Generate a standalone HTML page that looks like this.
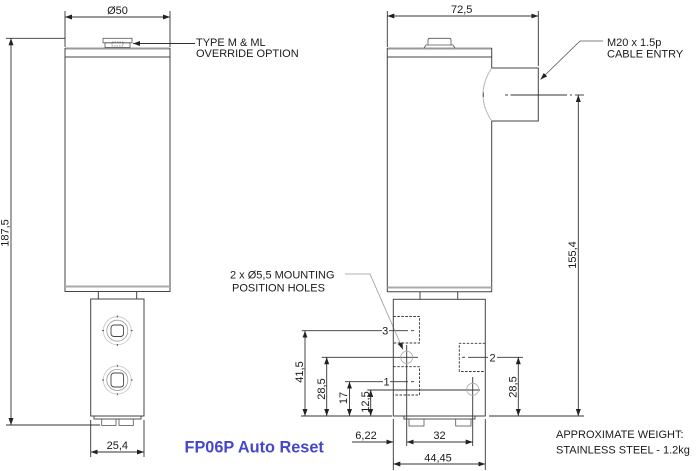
<!DOCTYPE html>
<html><head><meta charset="utf-8"><style>
html,body{margin:0;padding:0;background:#fff;}
svg{display:block;}
text{font-family:"Liberation Sans",sans-serif;font-size:11px;fill:#1a1a1a;}
</style></head><body>
<svg width="700" height="471" viewBox="0 0 700 471" xmlns="http://www.w3.org/2000/svg">
<defs>
<marker id="a" markerWidth="8" markerHeight="6" refX="7" refY="2.5" orient="auto-start-reverse" markerUnits="userSpaceOnUse"><path d="M0,0 L7,2.5 L0,5 z" fill="#222"/></marker>
</defs>

<!-- ============ LEFT VIEW ============ -->
<g stroke="#333" stroke-width="0.9" fill="none">
  <!-- Ø50 -->
  <line x1="65" y1="11" x2="65" y2="47"/>
  <line x1="170" y1="11" x2="170" y2="47"/>
  <line x1="65" y1="17" x2="170" y2="17" marker-start="url(#a)" marker-end="url(#a)"/>
  <!-- 187,5 -->
  <line x1="6" y1="38.3" x2="65" y2="38.3"/>
  <line x1="11" y1="38.3" x2="11" y2="425" marker-start="url(#a)" marker-end="url(#a)"/>
  <line x1="6" y1="425" x2="100" y2="425"/>
  <!-- 25,4 -->
  <line x1="90.7" y1="420" x2="90.7" y2="457"/>
  <line x1="144" y1="420" x2="144" y2="457"/>
  <line x1="90.7" y1="452" x2="144" y2="452" marker-start="url(#a)" marker-end="url(#a)"/>
  <!-- leader override -->
  <line x1="133" y1="43.5" x2="195" y2="43.5" marker-start="url(#a)"/>
</g>
<text x="117.5" y="14" text-anchor="middle">Ø50</text>
<text transform="translate(8.5,233) rotate(-90)" text-anchor="middle">187,5</text>
<text x="117.3" y="449" text-anchor="middle">25,4</text>
<text x="196" y="46">TYPE M &amp; ML</text>
<text x="196" y="57">OVERRIDE OPTION</text>

<!-- left body -->
<g fill="none">
  <line x1="65" y1="48.5" x2="170" y2="48.5" stroke="#999" stroke-width="2"/>
  <line x1="65" y1="57" x2="170" y2="57" stroke="#444" stroke-width="1"/>
  <line x1="65" y1="48" x2="65" y2="292" stroke="#444" stroke-width="1"/>
  <line x1="170" y1="48" x2="170" y2="292" stroke="#444" stroke-width="1"/>
  <line x1="65" y1="286.5" x2="170" y2="286.5" stroke="#aaa" stroke-width="2"/>
  <line x1="65" y1="291.5" x2="170" y2="291.5" stroke="#444" stroke-width="1"/>
  <!-- button -->
  <rect x="103" y="38.3" width="29" height="4.5" stroke="#555" stroke-width="0.8"/>
  <rect x="105" y="42.8" width="25" height="4.7" stroke="#555" stroke-width="0.8"/>
  <rect x="112" y="42" width="11" height="4" stroke="#777" stroke-width="0.7" stroke-dasharray="1.5,1"/>
  <!-- neck -->
  <line x1="98.3" y1="292" x2="98.3" y2="299" stroke="#444"/>
  <line x1="136.7" y1="292" x2="136.7" y2="299" stroke="#444"/>
  <!-- block -->
  <rect x="90.7" y="299" width="53.3" height="117" stroke="#444" stroke-width="1"/>
  <rect x="94" y="416" width="47" height="3" stroke="#444" stroke-width="0.9"/>
  <rect x="101.7" y="419" width="14.3" height="6.5" stroke="#555" stroke-width="0.8"/>
  <rect x="119" y="419" width="14.3" height="6.5" stroke="#555" stroke-width="0.8"/>
  <!-- circles -->
  <circle cx="117.3" cy="330.7" r="14" stroke="#c4c4c4" stroke-width="0.8"/>
  <circle cx="117.3" cy="330.7" r="10.5" stroke="#999" stroke-width="0.8"/>
  <rect x="111" y="325" width="12.6" height="11.5" rx="3" stroke="#444" stroke-width="0.9"/>
  <circle cx="117.3" cy="380" r="14" stroke="#c4c4c4" stroke-width="0.8"/>
  <circle cx="117.3" cy="380" r="10.5" stroke="#999" stroke-width="0.8"/>
  <rect x="111" y="373" width="12.6" height="14" rx="3" stroke="#444" stroke-width="0.9"/>
  <g stroke="#333" stroke-width="0.8">
    <line x1="117.3" y1="315.5" x2="117.3" y2="317.5"/><line x1="117.3" y1="344" x2="117.3" y2="346"/>
    <line x1="102" y1="330.7" x2="104" y2="330.7"/><line x1="130.6" y1="330.7" x2="132.6" y2="330.7"/>
    <line x1="117.3" y1="364.8" x2="117.3" y2="366.8"/><line x1="117.3" y1="393.3" x2="117.3" y2="395.3"/>
    <line x1="102" y1="380" x2="104" y2="380"/><line x1="130.6" y1="380" x2="132.6" y2="380"/>
  </g>
</g>

<text x="184.5" y="452.7" style="font-size:16.3px;font-weight:bold;fill:#4646cc;">FP06P Auto Reset</text>

<!-- ============ RIGHT VIEW ============ -->
<g stroke="#333" stroke-width="0.9" fill="none">
  <!-- 72,5 -->
  <line x1="387.3" y1="11" x2="387.3" y2="47"/>
  <line x1="538.3" y1="11" x2="538.3" y2="66"/>
  <line x1="387.3" y1="16" x2="538.3" y2="16" marker-start="url(#a)" marker-end="url(#a)"/>
  <!-- 155,4 -->
  <line x1="578.3" y1="95" x2="578.3" y2="416" marker-start="url(#a)" marker-end="url(#a)"/>
  <!-- M20 leader -->
  <polyline points="603,41 580,41 540.5,79.5" stroke="#555" stroke-width="0.8" marker-end="url(#a)"/>
  <!-- baselines -->
  <line x1="301" y1="416" x2="392" y2="416"/>
  <line x1="489" y1="416" x2="584" y2="416"/>
  <!-- 3 line -->
  <line x1="301.7" y1="330.7" x2="382" y2="330.7"/>
  <line x1="389" y1="330.7" x2="408" y2="330.7"/>
  <line x1="411" y1="330.7" x2="414" y2="330.7"/>
  <line x1="305" y1="330.7" x2="305" y2="416" marker-start="url(#a)" marker-end="url(#a)"/>
  <!-- 28,5 left -->
  <line x1="321.7" y1="357.3" x2="418" y2="357.3"/>
  <line x1="326.7" y1="357.3" x2="326.7" y2="416" marker-start="url(#a)" marker-end="url(#a)"/>
  <!-- 1 line / 17 -->
  <line x1="345" y1="381.7" x2="383" y2="381.7"/>
  <line x1="390" y1="381.7" x2="408" y2="381.7"/>
  <line x1="411" y1="381.7" x2="414" y2="381.7"/>
  <line x1="349.5" y1="381.7" x2="349.5" y2="416" marker-start="url(#a)" marker-end="url(#a)"/>
  <!-- 12,5 -->
  <line x1="367.3" y1="390" x2="480" y2="390"/>
  <line x1="370.7" y1="390" x2="370.7" y2="416" marker-start="url(#a)" marker-end="url(#a)"/>
  <!-- 2 line / right 28,5 -->
  <line x1="462" y1="357.3" x2="465" y2="357.3"/>
  <line x1="468" y1="357.3" x2="488" y2="357.3"/>
  <line x1="497" y1="357.3" x2="523" y2="357.3"/>
  <line x1="518.3" y1="357.3" x2="518.3" y2="416" marker-start="url(#a)" marker-end="url(#a)"/>
  <!-- hole centerlines vertical -->
  <line x1="406.7" y1="345" x2="406.7" y2="446"/>
  <line x1="472.7" y1="377" x2="472.7" y2="446"/>
  <!-- bottom ext -->
  <line x1="393.3" y1="419" x2="393.3" y2="470"/>
  <line x1="485.3" y1="419" x2="485.3" y2="470"/>
  <!-- 6,22 -->
  <line x1="352" y1="442" x2="393.3" y2="442" marker-end="url(#a)"/>
  <!-- 32 -->
  <line x1="406.7" y1="442" x2="472.7" y2="442" marker-start="url(#a)" marker-end="url(#a)"/>
  <!-- 44,45 -->
  <line x1="393.3" y1="464" x2="485.3" y2="464" marker-start="url(#a)" marker-end="url(#a)"/>
  <!-- mounting leader -->
  <polyline points="345,274 370,274 403,349.5" stroke="#999" stroke-width="0.8" marker-end="url(#a)"/>
</g>
<text x="461.7" y="13" text-anchor="middle">72,5</text>
<text x="607" y="46">M20 x 1.5p</text>
<text x="607" y="57.3">CABLE ENTRY</text>
<text transform="translate(576,255) rotate(-90)" text-anchor="middle">155,4</text>
<text x="230" y="278.3">2 x Ø5,5 MOUNTING</text>
<text x="232" y="291.7">POSITION HOLES</text>
<text x="385.2" y="334.7" text-anchor="middle">3</text>
<text x="386.5" y="385.7" text-anchor="middle">1</text>
<text x="492.5" y="361.3" text-anchor="middle">2</text>
<text transform="translate(303,372) rotate(-90)" text-anchor="middle">41,5</text>
<text transform="translate(325,389) rotate(-90)" text-anchor="middle">28,5</text>
<text transform="translate(347,398) rotate(-90)" text-anchor="middle">17</text>
<text transform="translate(369,402) rotate(-90)" text-anchor="middle">12,5</text>
<text transform="translate(516.5,387) rotate(-90)" text-anchor="middle">28,5</text>
<text x="366" y="439" text-anchor="middle">6,22</text>
<text x="439.5" y="439" text-anchor="middle">32</text>
<text x="438" y="461.7" text-anchor="middle">44,45</text>
<text x="556" y="438">APPROXIMATE WEIGHT:</text>
<text x="556" y="453.3">STAINLESS STEEL - 1.2kg</text>

<!-- right body -->
<g fill="none">
  <line x1="387.3" y1="48.5" x2="491.7" y2="48.5" stroke="#999" stroke-width="2"/>
  <line x1="387.3" y1="57" x2="491.7" y2="57" stroke="#444" stroke-width="1"/>
  <line x1="387.3" y1="48" x2="387.3" y2="292" stroke="#444" stroke-width="1"/>
  <line x1="491.7" y1="48" x2="491.7" y2="68" stroke="#444" stroke-width="1"/>
  <line x1="491.7" y1="121" x2="491.7" y2="292" stroke="#444" stroke-width="1"/>
  <line x1="387.3" y1="287.5" x2="491.7" y2="287.5" stroke="#aaa" stroke-width="2"/>
  <line x1="387.3" y1="291.7" x2="491.7" y2="291.7" stroke="#444" stroke-width="1"/>
  <!-- cable entry -->
  <polyline points="491.7,68 538.3,68 538.3,121 491.7,121" stroke="#444" stroke-width="1"/>
  <path d="M491.7,68 Q474.3,94.5 491.7,121" stroke="#b0b0b0" stroke-width="0.9"/>
  <line x1="483.3" y1="92.5" x2="483.3" y2="97" stroke="#444" stroke-width="0.9"/>
  <!-- centerline -->
  <g stroke="#333" stroke-width="0.9">
    <line x1="505" y1="95" x2="508" y2="95"/>
    <line x1="510.5" y1="95" x2="567" y2="95"/>
    <line x1="570" y1="95" x2="572" y2="95"/>
    <line x1="575" y1="95" x2="584" y2="95"/>
  </g>
  <!-- button -->
  <path d="M428,45 L428,40 Q428,38.3 430,38.3 L449.5,38.3 Q451,38.3 451,40 L451,45" stroke="#555" stroke-width="0.8"/>
  <path d="M424,48 L426,45 L453,45 L455,48" stroke="#555" stroke-width="0.8"/>
  <!-- neck -->
  <line x1="420" y1="292" x2="420" y2="299.3" stroke="#444"/>
  <line x1="457.7" y1="292" x2="457.7" y2="299.3" stroke="#444"/>
  <!-- block -->
  <rect x="393.3" y="299.3" width="92" height="116.7" stroke="#444" stroke-width="1"/>
  <rect x="404" y="416" width="71" height="3" stroke="#444" stroke-width="0.9"/>
  <rect x="409" y="419" width="15" height="7" stroke="#555" stroke-width="0.8"/>
  <rect x="455.7" y="419" width="15.3" height="7" stroke="#555" stroke-width="0.8"/>
  <!-- dashed holes -->
  <g stroke="#333" stroke-width="0.9" stroke-dasharray="2.5,1.5">
    <polyline points="393.3,316.5 419.5,316.5 419.5,343 393.3,343"/>
    <polyline points="393.3,366.7 419.5,366.7 419.5,395 393.3,395"/>
    <polyline points="485.3,343.3 459.3,343.3 459.3,371.5 485.3,371.5"/>
  </g>
  <!-- mounting circles -->
  <circle cx="406.7" cy="357.3" r="6" stroke="#aaa" stroke-width="0.8"/>
  <circle cx="472.7" cy="389.3" r="6" stroke="#aaa" stroke-width="0.8"/>
</g>
</svg>
</body></html>
